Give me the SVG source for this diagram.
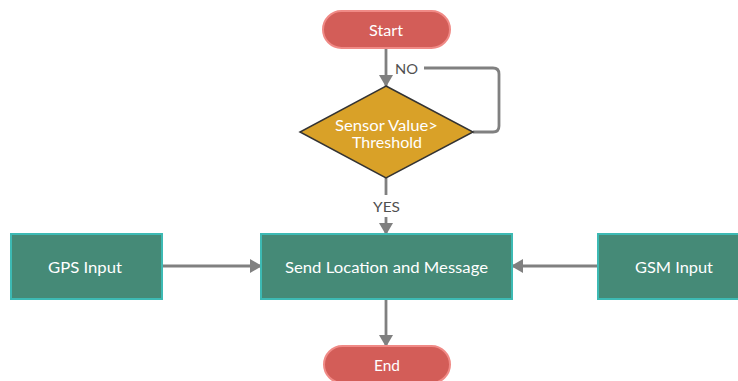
<svg xmlns="http://www.w3.org/2000/svg" width="738" height="381" viewBox="0 0 738 381">
<defs>
<style>
.t{font-family:Lato,"Liberation Sans",sans-serif;font-size:14.5px;fill:#ffffff;text-anchor:middle;dominant-baseline:central}
.l{font-family:Lato,"Liberation Sans",sans-serif;font-size:14px;fill:#505050;text-anchor:middle;dominant-baseline:central}
.term{fill:#d35d58;stroke:#f08a86;stroke-width:2}
.box{fill:#458a77;stroke:#3dbab4;stroke-width:2}
.dec{fill:#d9a128;stroke:#333333;stroke-width:1.5}
.c{stroke:#808080;stroke-width:2.8;fill:none}
</style>
<marker id="a" markerWidth="12" markerHeight="14" refX="11" refY="7" orient="auto" markerUnits="userSpaceOnUse" viewBox="0 0 12 14">
<path d="M0,0 L12,7 L0,14 z" fill="#808080"/>
</marker>
</defs>
<rect width="738" height="381" fill="#ffffff"/>
<g id="connectors">
<path class="c" d="M386,48 V86" marker-end="url(#a)"/>
<path class="c" d="M473,132 H493 Q499,132 499,126 V74 Q499,68 493,68 H424"/>
<path class="c" d="M386,178 V195"/>
<path class="c" d="M386,217 V234" marker-end="url(#a)"/>
<path class="c" d="M162,266 H261" marker-end="url(#a)"/>
<path class="c" d="M598,266 H512" marker-end="url(#a)"/>
<path class="c" d="M386,299 V346" marker-end="url(#a)"/>
<text class="l" x="406.5" y="68" textLength="23" lengthAdjust="spacingAndGlyphs">NO</text>
<text class="l" x="386.5" y="206" textLength="27" lengthAdjust="spacingAndGlyphs">YES</text>
</g>
<g id="start">
<rect class="term" x="323" y="11" width="127" height="37" rx="18.5"/>
<text class="t" x="386" y="30.5" textLength="34" lengthAdjust="spacingAndGlyphs">Start</text>
</g>
<g id="decision">
<polygon class="dec" points="386,86 473,132 386,178 300,132"/>
<text class="t" x="386.5" y="125" textLength="103" lengthAdjust="spacingAndGlyphs">Sensor Value&gt;</text>
<text class="t" x="387" y="142" textLength="70" lengthAdjust="spacingAndGlyphs">Threshold</text>
</g>
<g id="gps">
<rect class="box" x="11" y="234" width="151" height="65"/>
<text class="t" x="85" y="267" textLength="74" lengthAdjust="spacingAndGlyphs">GPS Input</text>
</g>
<g id="send">
<rect class="box" x="261" y="234" width="251" height="65"/>
<text class="t" x="386.5" y="267" textLength="203" lengthAdjust="spacingAndGlyphs">Send Location and Message</text>
</g>
<g id="gsm">
<rect class="box" x="598" y="234" width="151" height="65"/>
<text class="t" x="674" y="267" textLength="78" lengthAdjust="spacingAndGlyphs">GSM Input</text>
</g>
<g id="end">
<rect class="term" x="324" y="346" width="126" height="37" rx="18.5"/>
<text class="t" x="387" y="365" textLength="26" lengthAdjust="spacingAndGlyphs">End</text>
</g>
</svg>
